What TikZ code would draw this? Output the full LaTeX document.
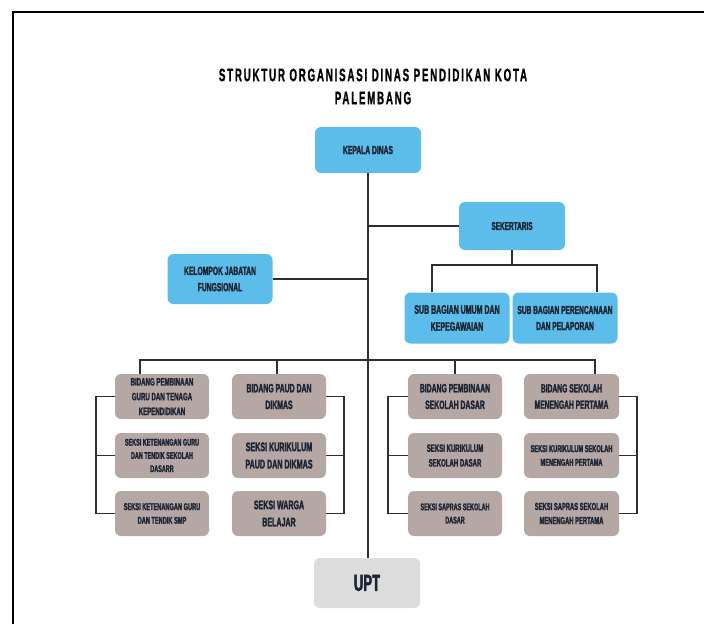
\documentclass[tikz,border=0pt]{standalone}
\usepackage{fontspec}
\setmainfont{Liberation Sans}
\newfontfamily\cfb[FakeStretch=0.57,FakeBold=2]{Liberation Sans Bold}
\newfontfamily\tfb[FakeStretch=0.54,LetterSpace=10,FakeBold=1]{Liberation Sans Bold}
\definecolor{bluebox}{HTML}{5CBDEA}
\definecolor{brownbox}{HTML}{B5A7A3}
\definecolor{greybox}{HTML}{DCDCDC}
\definecolor{ink}{HTML}{1C2533}
\definecolor{wire}{HTML}{2E2E2E}
\tikzset{
  fsz/.style={font=\cfb\fontsize{#1pt}{\the\dimexpr#1pt*138/100\relax}\selectfont},
  box/.style={rounded corners=6pt, align=center, inner sep=1pt, text=ink, minimum height=45pt},
  bluenode/.style={box, fill=bluebox},
  brownnode/.style={box, fill=brownbox, minimum width=94pt, minimum height=45pt},
  greynode/.style={box, fill=greybox},
  wirestyle/.style={draw=wire, line width=1.2pt},
  titlestyle/.style={font=\tfb\fontsize{18pt}{18pt}\selectfont, text=black},
}
\begin{document}
\begin{tikzpicture}[x=1pt,y=-1pt]
\useasboundingbox (0,0) rectangle (704,624);
% frame
\draw[line width=2.2pt, black] (13,624) -- (13,12) -- (704,12);
% title
\node[titlestyle] (t1) at (373,75) {STRUKTUR ORGANISASI DINAS PENDIDIKAN KOTA};
\node[titlestyle] (t2) at (373,98) {PALEMBANG};
% top
\node[bluenode, fsz=11.8, minimum width=106pt, minimum height=46pt] (kd) at (368,150) {KEPALA DINAS};
\node[bluenode, fsz=11.3, minimum width=106pt, minimum height=48pt] (sek) at (512,226) {SEKERTARIS};
\node[bluenode, fsz=11.8, minimum width=105pt, minimum height=50pt] (kjf) at (220,279) {KELOMPOK JABATAN\\FUNGSIONAL};
\node[bluenode, fsz=12.3, minimum width=105pt, minimum height=51pt] (sbu) at (457,318) {SUB BAGIAN UMUM DAN\\KEPEGAWAIAN};
\node[bluenode, fsz=11.6, minimum width=105pt, minimum height=51pt] (sbp) at (565,318) {SUB BAGIAN PERENCANAAN\\DAN PELAPORAN};
% UPT
\node[greynode, fsz=23, minimum width=106pt, minimum height=50pt] (upt) at (367,583) {UPT};
% bottom grid
\node[brownnode, fsz=10.7] (a1) at (162,396.5) {BIDANG PEMBINAAN\\GURU DAN TENAGA\\KEPENDIDIKAN};
\node[brownnode, fsz=9.6] (a2) at (162,455.5) {SEKSI KETENANGAN GURU\\DAN TENDIK SEKOLAH\\DASARR};
\node[brownnode, fsz=9.9] (a3) at (162,513.5) {SEKSI KETENANGAN GURU\\DAN TENDIK SMP};
\node[brownnode, fsz=12.1] (b1) at (279,396.5) {BIDANG PAUD DAN\\DIKMAS};
\node[brownnode, fsz=12.5] (b2) at (279,455.5) {SEKSI KURIKULUM\\PAUD DAN DIKMAS};
\node[brownnode, fsz=12.4] (b3) at (279,513.5) {SEKSI WARGA\\BELAJAR};
\node[brownnode, fsz=12] (c1) at (455,396.5) {BIDANG PEMBINAAN\\SEKOLAH DASAR};
\node[brownnode, fsz=10.6] (c2) at (455,455.5) {SEKSI KURIKULUM\\SEKOLAH DASAR};
\node[brownnode, fsz=9.6] (c3) at (455,513.5) {SEKSI SAPRAS SEKOLAH\\DASAR};
\node[brownnode, fsz=11.8, minimum width=95pt] (d1) at (571.5,396.5) {BIDANG SEKOLAH\\MENENGAH PERTAMA};
\node[brownnode, fsz=9.9, minimum width=95pt] (d2) at (571.5,455.5) {SEKSI KURIKULUM SEKOLAH\\MENENGAH PERTAMA};
\node[brownnode, fsz=10.2, minimum width=95pt] (d3) at (571.5,513.5) {SEKSI SAPRAS SEKOLAH\\MENENGAH PERTAMA};
% connector points
\coordinate (jsek) at (368,226);
\coordinate (jkjf) at (368,279);
\coordinate (sekj) at (512,265);
\coordinate (sl) at (432,265);
\coordinate (sr) at (597,265);
\coordinate (ta) at (140,360);
\coordinate (tb) at (277,360);
\coordinate (tc) at (455,360);
\coordinate (td) at (595,360);
\coordinate (ba) at (96,0);
\coordinate (bb) at (344,0);
\coordinate (bc) at (388,0);
\coordinate (bd) at (637,0);
% connectors
\draw[wirestyle] (kd.south) -- (kd.south |- upt.north);
\draw[wirestyle] (jsek) -- (sek.west);
\draw[wirestyle] (kjf.east) -- (jkjf);
\draw[wirestyle] (sek.south) -- (sekj);
\draw[wirestyle] (sl |- sbu.north) -- (sl) -- (sr) -- (sr |- sbp.north);
\draw[wirestyle] (ta |- a1.north) -- (ta) -- (td) -- (td |- d1.north);
\draw[wirestyle] (tb) -- (tb |- b1.north);
\draw[wirestyle] (tc) -- (tc |- c1.north);
% brackets
\draw[wirestyle] (a1.west) -- (ba |- a1.west) -- (ba |- a3.west) -- (a3.west);
\draw[wirestyle] (ba |- a2.west) -- (a2.west);
\draw[wirestyle] (b1.east) -- (bb |- b1.east) -- (bb |- b3.east) -- (b3.east);
\draw[wirestyle] (bb |- b2.east) -- (b2.east);
\draw[wirestyle] (c1.west) -- (bc |- c1.west) -- (bc |- c3.west) -- (c3.west);
\draw[wirestyle] (bc |- c2.west) -- (c2.west);
\draw[wirestyle] (d1.east) -- (bd |- d1.east) -- (bd |- d3.east) -- (d3.east);
\draw[wirestyle] (bd |- d2.east) -- (d2.east);
\end{tikzpicture}
\end{document}
